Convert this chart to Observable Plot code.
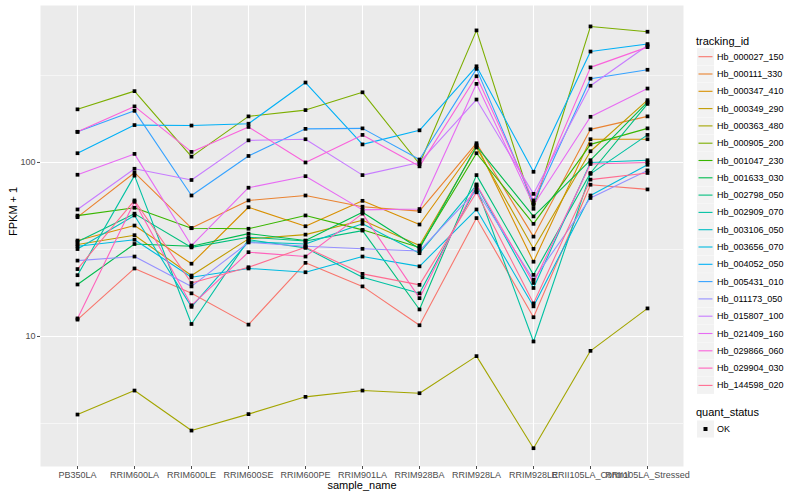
<!DOCTYPE html>
<html><head><meta charset="utf-8">
<script src="https://cdn.jsdelivr.net/npm/d3@7"></script>
<script src="https://cdn.jsdelivr.net/npm/@observablehq/plot@0.6"></script>
<style>
body{margin:0;background:#fff;font-family:"Liberation Sans",Arial,sans-serif;}
#wrap{position:relative;width:800px;height:500px;overflow:hidden;}
#chart{position:absolute;left:0;top:0;}
#legend{position:absolute;left:690px;top:0;}
</style></head><body><div id="wrap"><div id="chart"></div><div id="legend"></div></div>
<script>
const samples = ["PB350LA","RRIM600LA","RRIM600LE","RRIM600SE","RRIM600PE","RRIM901LA","RRIM928BA","RRIM928LA","RRIM928LE","RRII105LA_Control","RRII105LA_Stressed"];
const trackingIds = ["Hb_000027_150","Hb_000111_330","Hb_000347_410","Hb_000349_290","Hb_000363_480","Hb_000905_200","Hb_001047_230","Hb_001633_030","Hb_002798_050","Hb_002909_070","Hb_003106_050","Hb_003656_070","Hb_004052_050","Hb_005431_010","Hb_011173_050","Hb_015807_100","Hb_021409_160","Hb_029866_060","Hb_029904_030","Hb_144598_020"];
const colors = ["#F8766D","#EA8331","#D89000","#C09B00","#A3A500","#7CAE00","#39B600","#00BB4E","#00BF7D","#00C1A3","#00BFC4","#00BAE0","#00B0F6","#35A2FF","#9590FF","#C77CFF","#E76BF3","#FA62DB","#FF62BC","#FF6C91"];
const yTicks = [10, 100];

// FPKM + 1 per sample (in the order of `samples`)
const hb_000027_150 = [12.5, 24.6, 17.7, 11.7, 26.5, 19.4, 11.6, 47.9, 12.9, 74.5, 70];
const hb_000111_330 = [48.5, 87.3, 42, 60.5, 64.6, 55.7, 52.5, 129, 37.5, 155, 184];
const hb_000347_410 = [35.6, 43.4, 26.2, 55.3, 43, 60.2, 44, 126, 26.9, 136, 136];
const hb_000349_290 = [33.8, 38.2, 22.4, 36.4, 38.5, 46.6, 33.3, 122, 31.9, 116, 228];
const hb_000363_480 = [3.56, 4.89, 2.88, 3.58, 4.5, 4.89, 4.72, 7.71, 2.28, 8.27, 14.5];
const hb_000905_200 = [202, 257, 108, 184, 200, 253, 98, 574, 54.2, 605, 564];
const hb_001047_230 = [49.5, 54.9, 41.9, 41.6, 49.6, 41, 32.5, 113, 44.4, 127, 157];
const hb_001633_030 = [19.9, 34, 33, 39, 35.6, 51.8, 31.9, 124, 49, 103, 222];
const hb_002798_050 = [35, 50.8, 32.5, 37.2, 35.4, 40.6, 14.3, 84.6, 22.6, 87, 217];
const hb_002909_070 = [22.5, 84, 11.8, 36, 32.3, 21.9, 17.7, 72, 9.36, 86, 144];
const hb_003106_050 = [31.8, 49.6, 14.8, 35, 34, 44.4, 30.1, 74, 19, 100, 103];
const hb_003656_070 = [33, 36, 21.9, 24.6, 23.4, 28.8, 25.3, 53.7, 14.9, 64.6, 97];
const hb_004052_050 = [113, 164, 163, 167, 288, 127, 153, 357, 88.4, 434, 479];
const hb_005431_010 = [150, 198, 64.6, 109, 156, 157, 104, 345, 58.5, 303, 341];
const hb_011173_050 = [27.3, 28.8, 19.4, 34.7, 33, 31.9, 31, 69, 21.2, 62.5, 90];
const hb_015807_100 = [53.7, 92, 79.3, 134, 136, 84.6, 100, 230, 66, 276, 470];
const hb_021409_160 = [85, 112, 33.3, 71.6, 83.4, 53.4, 54, 283, 57, 183, 266];
const hb_029866_060 = [150, 210, 115, 160, 100, 144, 95, 313, 60.5, 352, 460];
const hb_029904_030 = [12.7, 59.4, 15.1, 30.5, 28.8, 50.8, 16.6, 74.8, 20.3, 98, 100];
const hb_144598_020 = [24.4, 60.5, 20.3, 25, 32.6, 22.9, 19.8, 67.4, 15.5, 79.7, 87];

const seriesValues = [hb_000027_150, hb_000111_330, hb_000347_410, hb_000349_290, hb_000363_480, hb_000905_200, hb_001047_230, hb_001633_030, hb_002798_050, hb_002909_070, hb_003106_050, hb_003656_070, hb_004052_050, hb_005431_010, hb_011173_050, hb_015807_100, hb_021409_160, hb_029866_060, hb_029904_030, hb_144598_020];

const rows = [];
trackingIds.forEach((id, i) => seriesValues[i].forEach((v, j) =>
  rows.push({tracking_id: id, sample_name: samples[j], fpkm1: v, quant_status: "OK"})));

const font = "'Liberation Sans', Arial, sans-serif";
const chart = Plot.plot({
  width: 690, height: 500,
  marginLeft: 40, marginRight: 7, marginTop: 5, marginBottom: 34,
  style: {fontFamily: font, background: "white"},
  x: {type: "point", domain: samples, padding: 0.6, label: null},
  y: {type: "log", domain: [1.79, 798], label: null},
  color: {domain: trackingIds, range: colors},
  marks: [
    Plot.frame({fill: "#EBEBEB", stroke: null}),
    Plot.gridY([3.1623, 31.623, 316.23], {stroke: "white", strokeOpacity: 1, strokeWidth: 0.55}),
    Plot.gridY(yTicks, {stroke: "white", strokeOpacity: 1, strokeWidth: 1.1}),
    Plot.gridX(samples, {stroke: "white", strokeOpacity: 1, strokeWidth: 1.1}),
    Plot.axisY({ticks: yTicks, tickFormat: d => String(d), tickSize: 3, tickPadding: 2, fontSize: 9, label: null, color: "#4D4D4D"}),
    Plot.axisX({tickSize: 3, tickPadding: 2, fontSize: 9, label: null, color: "#4D4D4D"}),
    Plot.line(rows, {x: "sample_name", y: "fpkm1", z: "tracking_id", stroke: "tracking_id", strokeWidth: 1.1}),
    Plot.dot(rows, {x: "sample_name", y: "fpkm1", symbol: "square", r: 2.1, fill: "black", stroke: null}),
    Plot.text(["FPKM + 1"], {text: d => d, frameAnchor: "left", dx: -27, rotate: -90, fontSize: 11, fill: "black"}),
    Plot.text(["sample_name"], {text: d => d, frameAnchor: "bottom", dy: 22, fontSize: 11, fill: "black"})
  ]
});
document.getElementById("chart").appendChild(chart);

// legend
const lg = d3.select("#legend").append("svg").attr("width", 110).attr("height", 500)
  .style("font-family", font);
lg.append("text").attr("x", 6).attr("y", 41).attr("dominant-baseline", "central")
  .attr("font-size", 11).text("tracking_id");
trackingIds.forEach((id, i) => {
  const cy = 56.7 + i * 17.3;
  lg.append("rect").attr("x", 7).attr("y", cy - 8.5).attr("width", 17).attr("height", 17).attr("fill", "#F2F2F2");
  lg.append("line").attr("x1", 8.5).attr("x2", 22.5).attr("y1", cy).attr("y2", cy)
    .attr("stroke", colors[i]).attr("stroke-width", 1.1);
  lg.append("text").attr("x", 27).attr("y", cy).attr("dominant-baseline", "central")
    .attr("font-size", 9).text(id);
});
lg.append("text").attr("x", 6).attr("y", 412).attr("dominant-baseline", "central")
  .attr("font-size", 11).text("quant_status");
lg.append("rect").attr("x", 7).attr("y", 429 - 8.5).attr("width", 17).attr("height", 17).attr("fill", "#F2F2F2");
lg.append("rect").attr("x", 13.5).attr("y", 429 - 2).attr("width", 4).attr("height", 4).attr("fill", "black");
lg.append("text").attr("x", 27).attr("y", 429).attr("dominant-baseline", "central")
  .attr("font-size", 9).text("OK");
</script></body></html>
